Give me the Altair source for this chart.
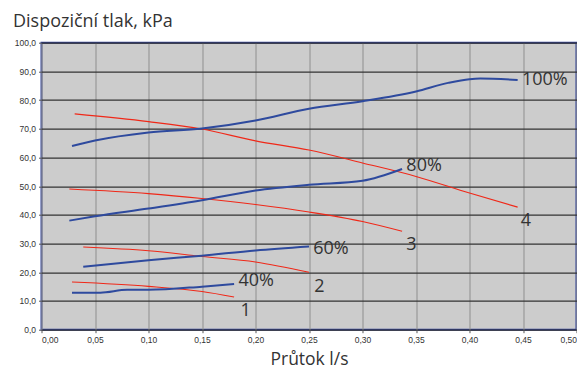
import altair as alt
import pandas as pd

# Blue (pump speed) curves
s100_x = [0.0285, 0.05, 0.10, 0.15, 0.20, 0.25, 0.30, 0.35, 0.38, 0.40, 0.41, 0.445]
s100_y = [64.0, 65.9, 68.7, 70.1, 72.9, 77.0, 79.6, 83.0, 86.0, 87.3, 87.5, 87.0]
s80_x = [0.026, 0.05, 0.10, 0.15, 0.20, 0.25, 0.30, 0.337]
s80_y = [38.0, 39.5, 42.2, 45.1, 48.5, 50.5, 51.9, 56.0]
s60_x = [0.039, 0.10, 0.15, 0.20, 0.25]
s60_y = [21.9, 24.2, 25.8, 27.6, 29.0]
s40_x = [0.0285, 0.055, 0.08, 0.10, 0.15, 0.18]
s40_y = [12.9, 12.9, 13.9, 13.9, 15.0, 15.9]

# Red (system) curves
r4_x = [0.031, 0.10, 0.15, 0.20, 0.25, 0.30, 0.35, 0.40, 0.445]
r4_y = [75.2, 72.5, 69.9, 65.8, 62.6, 58.1, 53.4, 47.6, 42.7]
r3_x = [0.026, 0.10, 0.15, 0.20, 0.25, 0.30, 0.337]
r3_y = [49.0, 47.4, 45.7, 43.6, 41.0, 37.7, 34.3]
r2_x = [0.039, 0.10, 0.15, 0.20, 0.25]
r2_y = [28.8, 27.5, 25.5, 23.6, 20.0]
r1_x = [0.0285, 0.10, 0.15, 0.18]
r1_y = [16.6, 15.1, 13.3, 11.4]

label_text = ["100%", "80%", "60%", "40%", "4", "3", "2", "1"]
label_x = [0.449, 0.341, 0.254, 0.184, 0.448, 0.341, 0.255, 0.186]
label_y = [87.1, 56.9, 28.2, 16.8, 38.0, 29.6, 15.0, 6.4]

x_ticks = [round(i * 0.05, 2) for i in range(11)]
y_ticks = list(range(0, 101, 10))

rows = []
for name, xs, ys, kind in [
    ("100", s100_x, s100_y, "pump"), ("80", s80_x, s80_y, "pump"),
    ("60", s60_x, s60_y, "pump"), ("40", s40_x, s40_y, "pump"),
    ("4", r4_x, r4_y, "sys"), ("3", r3_x, r3_y, "sys"),
    ("2", r2_x, r2_y, "sys"), ("1", r1_x, r1_y, "sys"),
]:
    for i, (a, b) in enumerate(zip(xs, ys)):
        rows.append({"series": name, "x": a, "y": b, "kind": kind, "order": i})
df = pd.DataFrame(rows)
labels = pd.DataFrame({"t": label_text, "x": label_x, "y": label_y})

xscale = alt.Scale(domain=[0, 0.5], nice=False, zero=False)
yscale = alt.Scale(domain=[0, 100], nice=False)

xaxis = alt.Axis(values=x_ticks, labelExpr="replace(format(datum.value, '.2f'), '.', ',')",
                 title="Průtok l/s", titleFont="Open Sans", titleFontSize=17.5,
                 titleFontWeight="normal", titleColor="#333333",
                 titleY=35, titleBaseline="alphabetic",
                 labelFont="Liberation Sans", labelFontSize=8.5, labelColor="#333333",
                 labelPadding=3, tickSize=3, tickColor="#555555", labelOverlap=False,
                 grid=True, gridColor="#999999", gridWidth=1.2, domain=False)
yaxis = alt.Axis(values=y_ticks, labelExpr="replace(format(datum.value, '.1f'), '.', ',')",
                 title="Dispoziční tlak, kPa", titleFont="Open Sans", titleFontSize=18,
                 titleFontWeight="normal", titleColor="#333333",
                 titleAngle=0, titleAlign="left", titleBaseline="alphabetic",
                 titleX=-29, titleY=-16,
                 labelFont="Liberation Sans", labelFontSize=8.5, labelColor="#333333",
                 labelPadding=3, tickSize=3, tickColor="#555555", labelOverlap=False,
                 grid=True, gridColor="#333333", gridWidth=1.2, domain=False)

X = alt.X("x:Q", scale=xscale, axis=xaxis)
Y = alt.Y("y:Q", scale=yscale, axis=yaxis)

base = alt.Chart(df)

sysl = base.transform_filter(alt.datum.kind == "sys").mark_line(
    interpolate="monotone", color="#F02818", strokeWidth=1.1
).encode(x=X, y=Y, detail="series:N", order="order:Q")

pump = base.transform_filter(alt.datum.kind == "pump").mark_line(
    interpolate="monotone", color="#2E4A9E", strokeWidth=2
).encode(x=X, y=Y, detail="series:N", order="order:Q")

text = alt.Chart(labels).mark_text(
    align="left", baseline="middle", font="Open Sans", fontSize=18, color="#333333"
).encode(x=X, y=Y, text="t:N")

chart = alt.layer(sysl, pump, text).properties(
    width=535, height=287,
    autosize=alt.AutoSizeParams(type="none"),
    padding={"left": 33.5, "top": 34.7, "right": 0, "bottom": 40},
    background="white",
).configure_view(
    fill="#CCCCCC", stroke="#2E3F96", strokeWidth=2
)

chart.save("out.html", embed_options={"renderer": "svg", "actions": False})
